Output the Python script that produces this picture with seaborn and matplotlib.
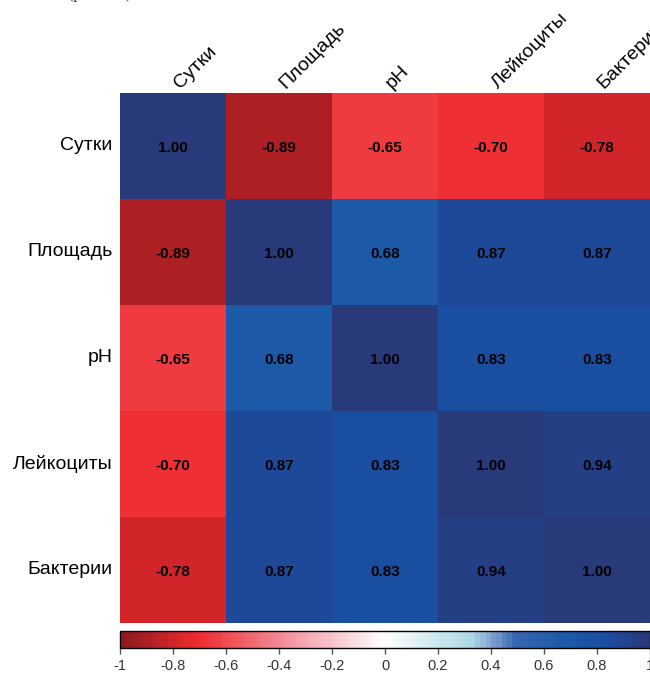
import numpy as np
import pandas as pd
import seaborn as sns
import matplotlib.pyplot as plt
from matplotlib.colors import LinearSegmentedColormap, ListedColormap, Normalize
from matplotlib.cm import ScalarMappable
from matplotlib.transforms import ScaledTranslation

sns.set_theme(style="white")
plt.rcParams['font.family'] = ['Liberation Sans', 'DejaVu Sans']

# Correlation matrix
variables = ["Сутки", "Площадь", "pH", "Лейкоциты", "Бактерии"]
r_sutki = [1.00, -0.89, -0.65, -0.70, -0.78]
r_ploshchad = [-0.89, 1.00, 0.68, 0.87, 0.87]
r_ph = [-0.65, 0.68, 1.00, 0.83, 0.83]
r_leuko = [-0.70, 0.87, 0.83, 1.00, 0.94]
r_bact = [-0.78, 0.87, 0.83, 0.94, 1.00]

cbar_ticks = [-1, -0.8, -0.6, -0.4, -0.2, 0, 0.2, 0.4, 0.6, 0.8, 1]
cbar_labels = ["-1", "-0.8", "-0.6", "-0.4", "-0.2", "0", "0.2", "0.4", "0.6", "0.8", "1"]

corr = pd.DataFrame([r_sutki, r_ploshchad, r_ph, r_leuko, r_bact],
                    index=variables, columns=variables)

# Diverging red-white-blue palette, sampled into discrete steps
nodes = [(-1.00, "#8E1A1E"), (-0.72, "#EE2A2D"), (-0.33, "#F4A0AC"),
         (0.00, "#FFFFFF"), (0.33, "#ADD8E6"), (0.40, "#88A8D4"),
         (0.50, "#3866B0"), (0.67, "#1C5BA8"), (0.85, "#1A4DA0"),
         (1.00, "#293A7A")]
smooth = LinearSegmentedColormap.from_list(
    "corr", [((v + 1) / 2, c) for v, c in nodes])
cmap = ListedColormap(smooth(np.linspace(0, 1, 100)))
norm = Normalize(vmin=-1, vmax=1)

W, H = 650, 673
fig = plt.figure(figsize=(W / 100, H / 100), dpi=100)
ax = fig.add_axes([120 / W, 50 / H, 530 / W, 530 / H])

sns.heatmap(corr, ax=ax, cmap=cmap, vmin=-1, vmax=1, cbar=False,
            annot=True, fmt=".2f",
            annot_kws=dict(color="black", fontsize=11, fontweight="bold"))

# nudge the cell values slightly downward
down = ScaledTranslation(0, -1.5 / 100, fig.dpi_scale_trans)
for t in ax.texts:
    t.set_transform(t.get_transform() + down)

ax.set_yticklabels(variables, rotation=0, fontsize=14, color="black")
ax.tick_params(axis="y", length=0, pad=5.5)

ax.xaxis.tick_top()
ax.set_xticklabels(variables, rotation=45, ha="left", va="baseline",
                   rotation_mode="anchor", fontsize=14, color="black")
ax.tick_params(axis="x", length=0, pad=3)
right = ScaledTranslation(7 / 100, 0, fig.dpi_scale_trans)
for lab in ax.get_xticklabels():
    lab.set_transform(lab.get_transform() + right)

# Colour legend below the matrix
cax = fig.add_axes([120 / W, 25 / H, 530 / W, 17 / H])
cb = fig.colorbar(ScalarMappable(norm=norm, cmap=cmap), cax=cax,
                  orientation="horizontal")
cb.set_ticks(cbar_ticks)
cb.set_ticklabels(cbar_labels)
cb.outline.set_edgecolor("black")
cb.outline.set_linewidth(1)
cax.tick_params(axis="x", length=4, width=1, color="#555555",
                labelsize=10.5, labelcolor="#333333", pad=4)

fig.text(100 / W, 1 + 2.5 / H, "(p < 0.05)", family=["Liberation Serif"],
         fontsize=11.5, ha="center", va="baseline", color="#333333")

fig.savefig("out.png", dpi=100)
